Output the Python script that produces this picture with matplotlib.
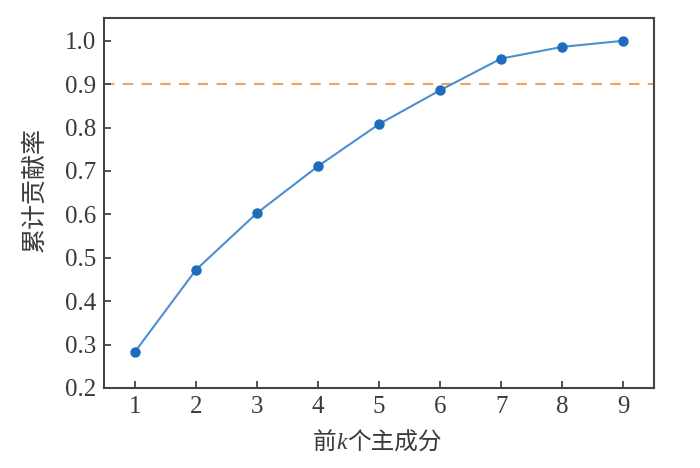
import matplotlib
matplotlib.use('Agg')
import matplotlib.pyplot as plt
from matplotlib.offsetbox import TextArea, HPacker, AnchoredOffsetbox

# 累计贡献率 data
k = [1, 2, 3, 4, 5, 6, 7, 8, 9]
ratio = [0.283, 0.472, 0.603, 0.711, 0.808, 0.886, 0.959, 0.986, 1.0]
threshold = 0.9
yticks = [0.2, 0.3, 0.4, 0.5, 0.6, 0.7, 0.8, 0.9, 1.0]

plt.rcParams['font.family'] = ['Liberation Serif', 'Noto Sans CJK SC', 'DejaVu Sans']

txt_color = '#3a3a3a'

fig = plt.figure(figsize=(7, 4.68), dpi=100)
ax = fig.add_axes([0.149, 0.171, 0.785, 0.791])

ax.axhline(threshold, color='#f0a060', linestyle=(0, (5, 4)), linewidth=1.5, zorder=1)
ax.plot(k, ratio, color='#4a8fd0', linewidth=1.5, marker='o', markersize=6.5,
        markerfacecolor='#1e6cbb', markeredgecolor='#1e6cbb', zorder=2)

ax.set_xlim(0.5, 9.5)
ax.set_ylim(0.2, 1.053)
ax.set_xticks(k)
ax.set_yticks(yticks)
ax.set_yticklabels([f'{v:.1f}' for v in yticks])

for side in ['left', 'bottom', 'top', 'right']:
    ax.spines[side].set_color('#444444')
    ax.spines[side].set_linewidth(1.5)

ax.tick_params(direction='in', length=5, width=1.3, color='#444444',
               labelsize=18, labelcolor=txt_color, pad=6)

ax.set_ylabel('累计贡献率', fontsize=18, color=txt_color)
ax.yaxis.set_label_coords(47 / 700, 1 - 189 / 468, transform=fig.transFigure)

# x label with italic k, built from pieces so the CJK fallback works
props = dict(fontsize=17, color=txt_color)
parts = [TextArea('前', textprops=props),
         TextArea('k', textprops=dict(props, style='italic', family='Liberation Serif')),
         TextArea('个主成分', textprops=props)]
box = HPacker(children=parts, align='baseline', pad=0, sep=0)
anchored = AnchoredOffsetbox(loc='center', child=box, pad=0, borderpad=0, frameon=False,
                             bbox_to_anchor=(377 / 700, 0.053),
                             bbox_transform=fig.transFigure)
fig.add_artist(anchored)

fig.savefig('out.png', dpi=100)
